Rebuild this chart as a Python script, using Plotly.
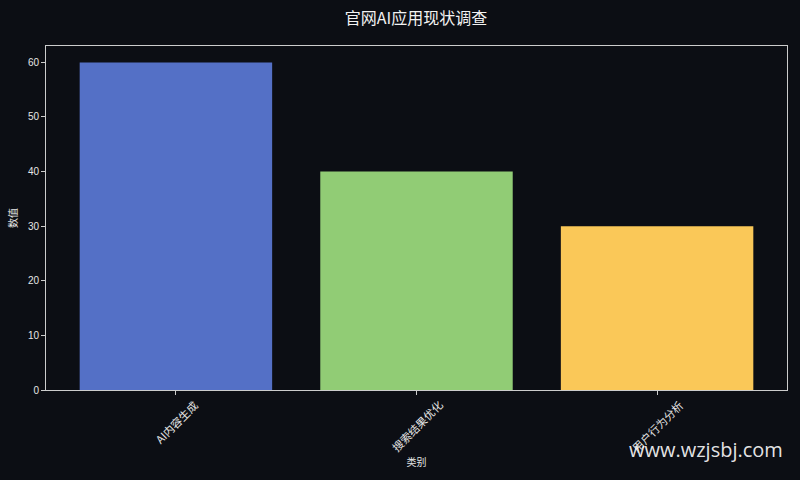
import plotly.graph_objects as go

# survey data
categories = ['AI内容生成', '搜索结果优化', '用户行为分析']
values = [60, 40, 30]
bar_colors = ['#5470C6', '#91CC75', '#FAC858']

bg = '#0c0e14'
fg = '#e6e6e6'
cjk = 'Noto Sans CJK SC'

fig = go.Figure(go.Bar(
    x=list(range(len(categories))),
    y=values,
    width=0.8,
    marker_color=bar_colors,
    marker_line_width=0,
))

fig.update_layout(
    width=800, height=480,
    margin=dict(l=46, r=13, t=46, b=90),
    paper_bgcolor=bg, plot_bgcolor=bg,
    font=dict(family=cjk, color=fg, size=10),
    showlegend=False,
    title=dict(text='官网AI应用现状调查', x=0.52, xanchor='center',
               y=0.962, yanchor='middle', font=dict(size=16, color='#f2f2f2')),
)

fig.update_xaxes(
    range=[-0.54, 2.54], tickvals=list(range(len(categories))),
    showticklabels=False, ticks='outside', ticklen=4, tickcolor='#cccccc',
    showline=True, linecolor='#cccccc', linewidth=1, mirror=True,
    showgrid=False, zeroline=False,
    title=dict(text='类别', standoff=64, font=dict(size=10)),
)
fig.update_yaxes(
    range=[0, 63], dtick=10, ticks='outside', ticklen=4, tickcolor='#cccccc',
    showline=True, linecolor='#cccccc', linewidth=1, mirror=True,
    showgrid=False, zeroline=False,
    tickfont=dict(family='Liberation Sans', size=10, color=fg),
    title=dict(text='数值', standoff=8, font=dict(size=10)),
)

# rotated category labels centred under each tick
for i, c in enumerate(categories):
    fig.add_annotation(x=i, y=0, xref='x', yref='paper', text=c,
                       textangle=-45, showarrow=False, xanchor='center',
                       yanchor='top', yshift=-4, font=dict(size=11, color=fg))

# watermark
fig.add_annotation(x=0.997, y=-0.172, xref='paper', yref='paper',
                   xanchor='right', yanchor='middle', showarrow=False,
                   text='www.wzjsbj.com',
                   font=dict(family='Open Sans', size=20, color='rgba(255,255,255,0.9)'))

fig.write_html("out.html", config={'displayModeBar': False},
               post_script="document.body.style.margin='0';document.body.style.background='#0c0e14';")
